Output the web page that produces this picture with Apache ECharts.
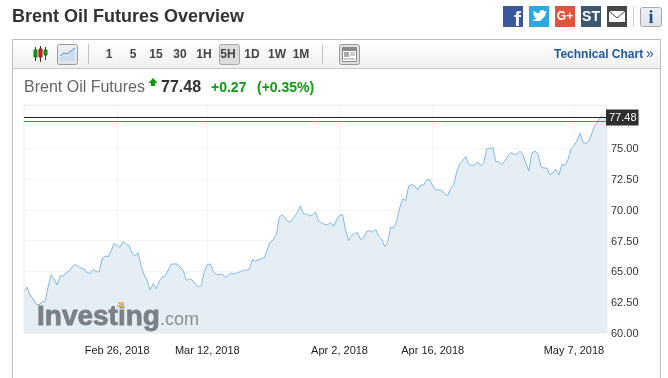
<!DOCTYPE html>
<html>
<head>
<meta charset="utf-8">
<title>Brent Oil Futures Overview</title>
<script src="https://cdn.jsdelivr.net/npm/echarts@6/dist/echarts.min.js"></script>
<style>
  html, body { margin: 0; padding: 0; background: #fff; }
  #main { width: 668px; height: 378px; }
</style>
</head>
<body>
<div id="main"></div>
<script>
// todo ======================= data =======================
const prices = [
  63.33, 63.73, 63.08, 62.76, 62.35, 62.27, 62.54, 62.52, 63.73, 64.71,
  64.38, 63.90, 64.63, 64.63, 64.87, 65.03, 65.36, 65.56, 65.40, 65.28,
  65.19, 64.91, 64.83, 65.15, 64.98, 64.95, 66.01, 66.25, 66.17, 66.66,
  67.26, 67.10, 66.96, 67.43, 67.20, 67.10, 66.45, 66.25, 66.53, 65.40,
  64.71, 64.22, 63.49, 63.99, 63.57, 64.22, 64.55, 64.63, 65.11, 65.60,
  65.60, 65.60, 65.33, 65.07, 64.26, 64.41, 64.30, 64.00, 63.73, 63.86,
  64.98, 65.56, 65.60, 64.99, 64.75, 64.76, 64.76, 64.50, 64.68, 64.87,
  64.79, 64.87, 64.99, 65.09, 65.10, 65.16, 65.98, 65.84, 65.93, 66.05,
  66.09, 66.82, 67.39, 67.57, 68.00, 69.42, 69.58, 69.31, 69.01, 69.09,
  69.44, 69.78, 70.31, 69.66, 69.66, 69.50, 69.58, 69.82, 69.09, 68.93,
  68.82, 68.77, 68.97, 68.64, 69.17, 69.54, 69.62, 68.36, 67.49, 67.91,
  68.08, 68.13, 67.59, 67.71, 68.24, 68.30, 68.20, 68.40, 67.87, 67.63,
  67.00, 67.36, 68.58, 68.52, 69.03, 70.15, 70.88, 70.75, 71.93, 72.04,
  71.97, 71.61, 72.01, 72.01, 72.42, 72.44, 71.93, 71.61, 71.61, 71.57,
  71.28, 71.14, 71.75, 72.03, 73.09, 73.70, 74.00, 74.31, 73.68, 73.60,
  73.65, 73.88, 73.56, 73.84, 74.95, 74.98, 75.07, 73.92, 73.88, 73.65,
  74.00, 74.33, 74.63, 74.51, 74.49, 74.77, 74.49, 73.77, 73.15, 74.61,
  74.76, 74.57, 73.50, 73.38, 73.39, 72.83, 73.03, 73.27, 72.83, 73.68,
  73.60, 74.04, 74.91, 75.20, 75.58, 76.21, 75.45, 75.40, 75.58, 76.23,
  76.83, 77.17, 77.56, 77.45, 77.48
]
const lastPrice = 77.48
const prevClose = 77.21
const yTicks = [60, 62.5, 65, 67.5, 70, 72.5, 75]
const dateIndex = [31, 61, 105, 136, 183]
const dateLabels = ['Feb 26, 2018', 'Mar 12, 2018', 'Apr 2, 2018', 'Apr 16, 2018', 'May 7, 2018']
const periods = ['1', '5', '15', '30', '1H', '5H', '1D', '1W', '1M']

const categories = prices.map((p, i) => {
  const k = dateIndex.indexOf(i)
  return k >= 0 ? dateLabels[k] : String(i)
})
const isDateTick = (i) => dateIndex.includes(i)

const FONT = '"Liberation Sans", Arial, sans-serif'
const myChart = echarts.init(document.querySelector('#main'))

// todo ======================= page parts around the chart =======================
const text = (x, y, str, size, color, bold, align) => ({
  type: 'text',
  silent: true,
  style: {
    x, y, text: str,
    fill: color,
    font: (bold ? 'bold ' : '') + size + 'px ' + FONT,
    align: align || 'left',
    verticalAlign: 'middle',
  },
})
const box = (x, y, w, h, fill, stroke, r) => ({
  type: 'rect',
  silent: true,
  shape: { x, y, width: w, height: h, r: r || 0 },
  style: { fill: fill, stroke: stroke || 'none', lineWidth: 1 },
})
const poly = (points, stroke, fill, width) => ({
  type: fill ? 'polygon' : 'polyline',
  silent: true,
  shape: { points },
  style: { stroke: stroke || 'none', fill: fill || 'none', lineWidth: width || 1 },
})

const toolbarFill = new echarts.graphic.LinearGradient(0, 0, 0, 1, [
  { offset: 0, color: '#ffffff' },
  { offset: 1, color: '#f0f0f0' },
])
const btnFill = new echarts.graphic.LinearGradient(0, 0, 0, 1, [
  { offset: 0, color: '#eef1f4' },
  { offset: 1, color: '#dfe3e8' },
])

const periodX = [109, 133, 156, 180, 204, 228, 252, 277, 301]

const infoIcon = text(651, 18, 'i', 18, '#1c4f80', true, 'center')
infoIcon.style.font = 'bold 18px "Liberation Serif", serif'

// 水印 sits above the area, bold text thickened with a thin stroke
const logoWord = text(37, 317, 'Investing', 28, '#7b8085', true)
logoWord.z = 10
logoWord.style.stroke = '#7b8085'
logoWord.style.lineWidth = 0.8

const chrome = [
  // panel
  box(12.5, 39.5, 648, 345, '#fff', '#bdbdbd'),
  box(13, 40, 647, 28, toolbarFill),
  poly([[13, 68.5], [660, 68.5]], '#c8c8c8'),
  poly([[88.5, 44], [88.5, 64]], '#c4c4c4'),
  poly([[322.5, 44], [322.5, 64]], '#c4c4c4'),

  // candlestick icon
  poly([[35.5, 47], [35.5, 61]], '#333'),
  box(34, 50, 3, 7, '#19a019', '#0d7a0d'),
  poly([[40.5, 46], [40.5, 62]], '#333'),
  box(39, 49, 3, 8, '#d82020', '#a01010'),
  poly([[45.5, 47], [45.5, 60]], '#333'),
  box(44, 50, 3, 5, '#19a019', '#0d7a0d'),

  // line icon button
  box(57.5, 44.5, 20, 20, btnFill, '#9a9a9a', 2),
  poly([[60, 58], [64, 55], [67, 56], [71, 52], [75, 49], [75, 61], [60, 61]], null, '#cddcec'),
  poly([[60, 56], [64, 53], [67, 54], [71, 51], [75, 48]], '#4f86c0'),

  // selected period
  box(219.5, 44.5, 20, 20, '#dcdcdc', '#a8a8a8', 2),

  // layout icon
  box(339.5, 44.5, 20, 20, '#dedede', '#9a9a9a', 2),
  box(342.5, 47.5, 14, 14, '#fff', '#8a8a8a'),
  box(343, 48, 13, 3, '#8a8a8a'),
  box(344, 52, 5, 5, '#a8a8a8'),
  poly([[350, 53], [355, 53]], '#999'),
  poly([[350, 55], [355, 55]], '#999'),
  poly([[344, 59], [355, 59]], '#999'),

  text(554, 55, 'Technical Chart', 12, '#1c5a9e', true),
  text(646, 54, '»', 14, '#1c5a9e', false),

  // heading
  text(12, 17, 'Brent Oil Futures Overview', 18, '#333', true),
  text(24, 88, 'Brent Oil Futures', 16, '#666', false),
  poly([[153, 78], [157.5, 83], [155, 83], [155, 86], [151, 86], [151, 83], [148.5, 83]], null, '#0a9a0a'),
  text(161, 88, String(lastPrice), 16, '#333', true),
  text(211, 88, '+0.27', 14, '#0f9d0f', true),
  text(257, 88, '(+0.35%)', 14, '#0f9d0f', true),

  // share buttons
  box(503, 6, 20, 21, '#3b5998'),
  text(521, 20, 'f', 21, '#fff', true, 'right'),
  box(529, 6, 20, 21, '#2ca7e0'),
  poly([[532, 20], [535, 21], [540, 21], [545, 16], [546, 12], [547, 11], [545, 11.5], [543, 10], [540, 10.5], [539, 13.5], [535, 12], [533, 10.5], [534, 14], [533, 14], [535, 17], [534, 17], [537, 19]], null, '#fff'),
  box(555, 6, 20, 21, '#e0533f'),
  text(565, 17, 'G+', 12, '#fff', true, 'center'),
  box(581, 6, 20, 21, '#3e5870'),
  text(591, 17, 'ST', 14, '#fff', true, 'center'),
  box(607, 6, 20, 21, '#484848'),
  box(609, 11, 16, 11, '#fff'),
  poly([[609, 11], [617, 18], [625, 11]], '#484848'),
  poly([[633.5, 6], [633.5, 27]], '#cfcfcf'),
  box(640.5, 7.5, 21, 19, btnFill, '#a8a8a8', 2),
  infoIcon,

  // watermark
  logoWord,
  Object.assign(text(160, 320, '.com', 18, '#8a8f94', false), { z: 10 }),
  Object.assign(box(118, 302, 6, 2, '#e8b860'), { z: 10 }),
  Object.assign(box(117, 305, 7, 2, '#e8b860'), { z: 10 }),
]

periods.forEach((p, i) => {
  chrome.push(text(periodX[i], 55, p, 12, '#444', true, 'center'))
})

// todo ======================= 折线图 =======================
const option = {
  animation: false,
  textStyle: { fontFamily: FONT },
  grid: {
    show: true,
    left: 24,
    right: 61,
    top: 105,
    bottom: 45,
    borderColor: '#ececec',
    backgroundColor: 'transparent',
    z: 5,
  },
  xAxis: {
    type: 'category',
    data: categories,
    boundaryGap: false,
    axisLine: { show: false },
    axisTick: { show: false },
    axisLabel: {
      interval: (i) => isDateTick(i),
      margin: 12,
      fontSize: 11,
      color: '#222',
      hideOverlap: false,
    },
    splitLine: {
      show: true,
      interval: (i) => isDateTick(i),
      lineStyle: { color: '#f4f4f4' },
    },
  },
  yAxis: {
    type: 'value',
    position: 'right',
    min: 60,
    max: 78.5,
    interval: 2.5,
    axisLine: { show: false },
    axisTick: { show: false },
    axisLabel: {
      customValues: yTicks,
      margin: 4,
      // 往下移 1px
      verticalAlign: 'top',
      lineHeight: 2,
      fontSize: 11,
      color: '#333',
      formatter: (v) => v.toFixed(2),
    },
    splitLine: { show: true, lineStyle: { color: '#f4f4f4' } },
  },
  series: [
    {
      type: 'line',
      data: prices,
      // 不要小圆点
      symbol: 'none',
      z: 3,
      lineStyle: { color: '#86b8e4', width: 1 },
      areaStyle: { color: '#e5edf5', opacity: 1 },
      markLine: {
        silent: true,
        symbol: 'none',
        animation: false,
        data: [
          {
            yAxis: lastPrice,
            lineStyle: { color: '#222', width: 1, type: 'solid' },
            label: {
              show: true,
              position: 'end',
              distance: -1,
              formatter: () => lastPrice.toFixed(2),
              backgroundColor: '#2e2e2e',
              color: '#fff',
              fontSize: 11,
              padding: [3, 2, 2, 3],
            },
          },
          {
            yAxis: prevClose,
            lineStyle: { color: '#d24a4a', width: 1, type: 'solid' },
            label: { show: false },
          },
        ],
      },
    },
  ],
  graphic: { elements: chrome },
}

myChart.setOption(option)
</script>
</body>
</html>
